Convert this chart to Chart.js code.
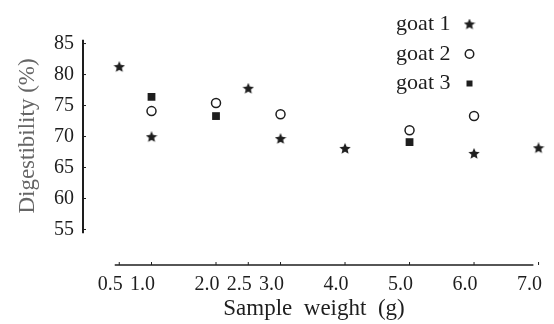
<!DOCTYPE html>
<html>
<head>
<meta charset="utf-8">
<script src="https://cdn.jsdelivr.net/npm/chart.js@4/dist/chart.umd.min.js"></script>
<style>
  html, body { margin: 0; padding: 0; background: #fff; }
</style>
</head>
<body>
<canvas id="chart" width="554" height="324"></canvas>
<script>
const seriesNames = ['goat 1', 'goat 2', 'goat 3'];

const goat1X = [0.5, 1.0, 2.5, 3.0, 4.0, 6.0, 7.0];
const goat1Y = [81.2, 69.9, 77.7, 69.6, 68.0, 67.2, 68.1];

const goat2X = [1.0, 2.0, 3.0, 5.0, 6.0];
const goat2Y = [74.1, 75.4, 73.6, 71.0, 73.3];

const goat3X = [1.0, 2.0, 5.0];
const goat3Y = [76.4, 73.3, 69.1];

const xTicks = [0.5, 1.0, 2.0, 2.5, 3.0, 4.0, 5.0, 6.0, 7.0];
const yTicks = [55, 60, 65, 70, 75, 80, 85];

// where the drawn axis lines start and stop (data units)
const xAxisSpan = [0.43, 6.92];
const yAxisSpan = [54.4, 85.6];

const INK = '#1e1e1e';
const SERIF = "'Liberation Serif', 'Times New Roman', serif";
Chart.defaults.font.family = SERIF;
Chart.defaults.color = INK;

function toPoints(xs, ys) {
  return xs.map((x, i) => ({ x: x, y: ys[i] }));
}

// filled five-point star used for goat 1
function makeStar(size) {
  const c = document.createElement('canvas');
  c.width = size;
  c.height = size;
  const g = c.getContext('2d');
  const cx = size / 2, cy = size / 2;
  const outer = size / 2, inner = size / 4.4;
  g.beginPath();
  for (let i = 0; i < 10; i++) {
    const r = i % 2 === 0 ? outer : inner;
    const a = -Math.PI / 2 + i * Math.PI / 5;
    const px = cx + r * Math.cos(a);
    const py = cy + r * Math.sin(a);
    if (i === 0) g.moveTo(px, py); else g.lineTo(px, py);
  }
  g.closePath();
  g.fillStyle = INK;
  g.fill();
  return c;
}
const star = makeStar(12);

// y axis line, x axis line, and their small inward ticks
const axisLines = {
  id: 'axisLines',
  beforeDatasetsDraw(chart) {
    const { ctx, chartArea, scales } = chart;
    const x = scales.x, y = scales.y;
    ctx.save();
    ctx.strokeStyle = INK;

    ctx.lineWidth = 2;
    ctx.beginPath();
    ctx.moveTo(chartArea.left, y.getPixelForValue(yAxisSpan[1]));
    ctx.lineTo(chartArea.left, y.getPixelForValue(yAxisSpan[0]));
    ctx.stroke();

    ctx.lineWidth = 1.5;
    ctx.beginPath();
    ctx.moveTo(x.getPixelForValue(xAxisSpan[0]), chartArea.bottom);
    ctx.lineTo(x.getPixelForValue(xAxisSpan[1]), chartArea.bottom);
    ctx.stroke();

    ctx.lineWidth = 1;
    ctx.beginPath();
    yTicks.forEach(v => {
      const py = y.getPixelForValue(v);
      ctx.moveTo(chartArea.left, py);
      ctx.lineTo(chartArea.left + 3, py);
    });
    xTicks.forEach(v => {
      const px = x.getPixelForValue(v);
      ctx.moveTo(px, chartArea.bottom);
      ctx.lineTo(px, chartArea.bottom - 3);
    });
    ctx.stroke();
    ctx.restore();
  }
};

// put the legend up in the top right corner
const legendPlacer = {
  id: 'legendPlacer',
  afterLayout(chart) {
    const lg = chart.legend;
    if (!lg) return;
    const right = 485, top = 6;
    lg.left = right - lg.width;
    lg.right = right;
    lg.top = top;
    lg.bottom = top + lg.height;
  }
};

new Chart(document.getElementById('chart'), {
  type: 'scatter',
  data: {
    datasets: [
      {
        label: seriesNames[0],
        data: toPoints(goat1X, goat1Y),
        pointStyle: star,
        pointRadius: 6,
        backgroundColor: INK,
        borderColor: INK
      },
      {
        label: seriesNames[1],
        data: toPoints(goat2X, goat2Y),
        pointStyle: 'circle',
        pointRadius: 4.5,
        borderWidth: 1.5,
        backgroundColor: '#ffffff',
        borderColor: INK
      },
      {
        label: seriesNames[2],
        data: toPoints(goat3X, goat3Y),
        pointStyle: 'rect',
        pointRadius: 5.5,
        borderWidth: 0,
        backgroundColor: INK,
        borderColor: INK
      }
    ]
  },
  options: {
    responsive: false,
    animation: false,
    devicePixelRatio: 1,
    layout: { padding: { left: 0, right: 9, top: 7, bottom: 0 } },
    plugins: {
      tooltip: { enabled: false },
      legend: {
        position: 'chartArea',
        align: 'start',
        rtl: true,
        labels: {
          usePointStyle: true,
          boxWidth: 16,
          boxHeight: 6,
          padding: 7.5,
          color: INK,
          font: { size: 22 }
        }
      }
    },
    scales: {
      x: {
        type: 'linear',
        min: -0.062,
        max: 7.1,
        grid: { display: false, drawTicks: false },
        border: { display: false },
        afterBuildTicks: s => { s.ticks = xTicks.map(v => ({ value: v })); },
        afterFit: s => { s.height = 59; s.paddingLeft = 0; s.paddingRight = 0; },
        ticks: {
          autoSkip: false,
          maxRotation: 0,
          padding: 8,
          labelOffset: -9,
          font: { size: 20 },
          color: INK,
          callback: v => Number(v).toFixed(1)
        },
        title: {
          display: true,
          text: 'Sample  weight  (g)',
          font: { size: 23 },
          color: INK,
          padding: { top: 0, bottom: 1 }
        }
      },
      y: {
        type: 'linear',
        min: 49.27,
        max: 90.9,
        grid: { display: false, drawTicks: false },
        border: { display: false },
        afterBuildTicks: s => { s.ticks = yTicks.map(v => ({ value: v })); },
        afterFit: s => { s.width = 83; s.paddingTop = 0; s.paddingBottom = 0; },
        ticks: {
          padding: 9,
          font: { size: 20 },
          color: INK,
          callback: v => String(v)
        },
        title: {
          display: true,
          text: 'Digestibility (%)',
          font: { size: 23 },
          color: '#666',
          padding: { top: 14, bottom: 0 }
        }
      }
    }
  },
  plugins: [axisLines, legendPlacer]
});
</script>
</body>
</html>
